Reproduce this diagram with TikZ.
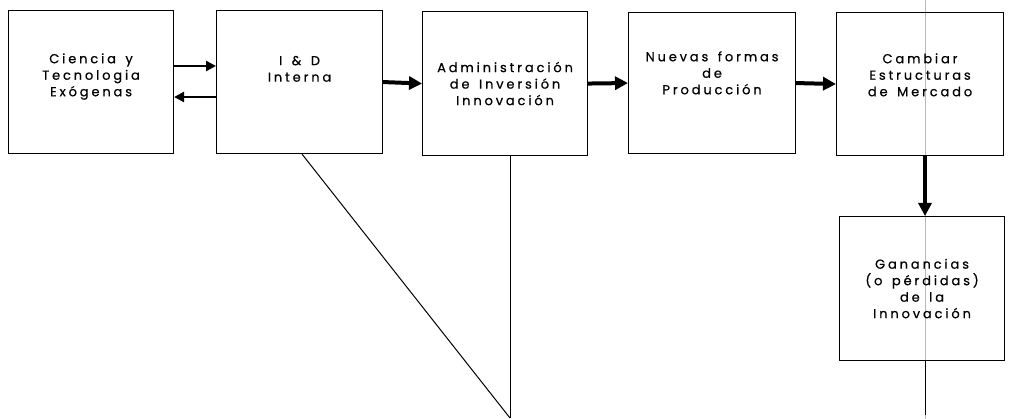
\documentclass[tikz,border=0pt]{standalone}
\usepackage{fontspec}
\setmainfont{Poppins}[LetterSpace=22,WordSpace=1.5,FakeBold=0.6]
\usetikzlibrary{arrows.meta}
\tikzset{
  box/.style={draw, line width=1.1pt, inner sep=0pt, anchor=north west, align=center,
    font=\fontsize{13}{16.5}\selectfont},
  smallarrow/.style={line width=2.8pt, -{Triangle[length=10pt,width=10pt]}},
  thickarrow/.style={line width=4pt, -{Triangle[length=13pt,width=13pt]}},
  thinline/.style={line width=1pt},
  foldline/.style={draw=gray!55, line width=0.8pt}
}
\begin{document}
\begin{tikzpicture}[x=1pt,y=-1pt]
\useasboundingbox (0,0) rectangle (1009,419);
% fold line of the scan
\coordinate (vtop) at (925,0);
\coordinate (vbot) at (925,419);
\draw[foldline] (vtop) -- (vbot);

\node[box, minimum width=165pt, minimum height=143pt] (b1) at (8,10)
  {Ciencia y\\Tecnologia\\Exógenas\\[-2pt]};
\node[box, minimum width=166pt, minimum height=143pt] (b2) at (216,10)
  {I \& D\\Interna\\[10pt]};
\node[box, minimum width=165pt, minimum height=144pt] (b3) at (422,11)
  {Administración\\de Inversión\\Innovación};
\node[box, minimum width=167pt, minimum height=141pt] (b4) at (628,12)
  {Nuevas formas\\de\\Producción\\[4pt]};
\node[box, minimum width=167pt, minimum height=143pt] (b5) at (836,12)
  {Cambiar\\Estructuras\\de Mercado\\[2pt]};
\node[box, minimum width=165pt, minimum height=144pt] (b6) at (839,216)
  {Ganancias\\(o pérdidas)\\de la\\Innovación};

\coordinate (r1) at (0,66);
\coordinate (r2) at (0,97);
\coordinate (vl) at (925,0);
\coordinate (m) at (510,418);
\coordinate (d0) at (302,0);
\coordinate (vend) at (925,415);

\draw[smallarrow] (b1.east |- r1) -- (b2.west |- r1);
\draw[smallarrow] (b2.west |- r2) -- (b1.east |- r2);
\draw[thickarrow] (b2.east) -- (b3.west);
\draw[thickarrow] (b3.east) -- (b4.west);
\draw[thickarrow] (b4.east) -- (b5.west);
\draw[thickarrow] (b5.south -| vl) -- (b6.north -| vl);

\draw[thinline] (b2.south -| d0) -- (m);
\draw[thinline] (b3.south -| m) -- (m);
\draw[thinline] (b6.south -| vl) -- (vend);
\end{tikzpicture}
\end{document}
